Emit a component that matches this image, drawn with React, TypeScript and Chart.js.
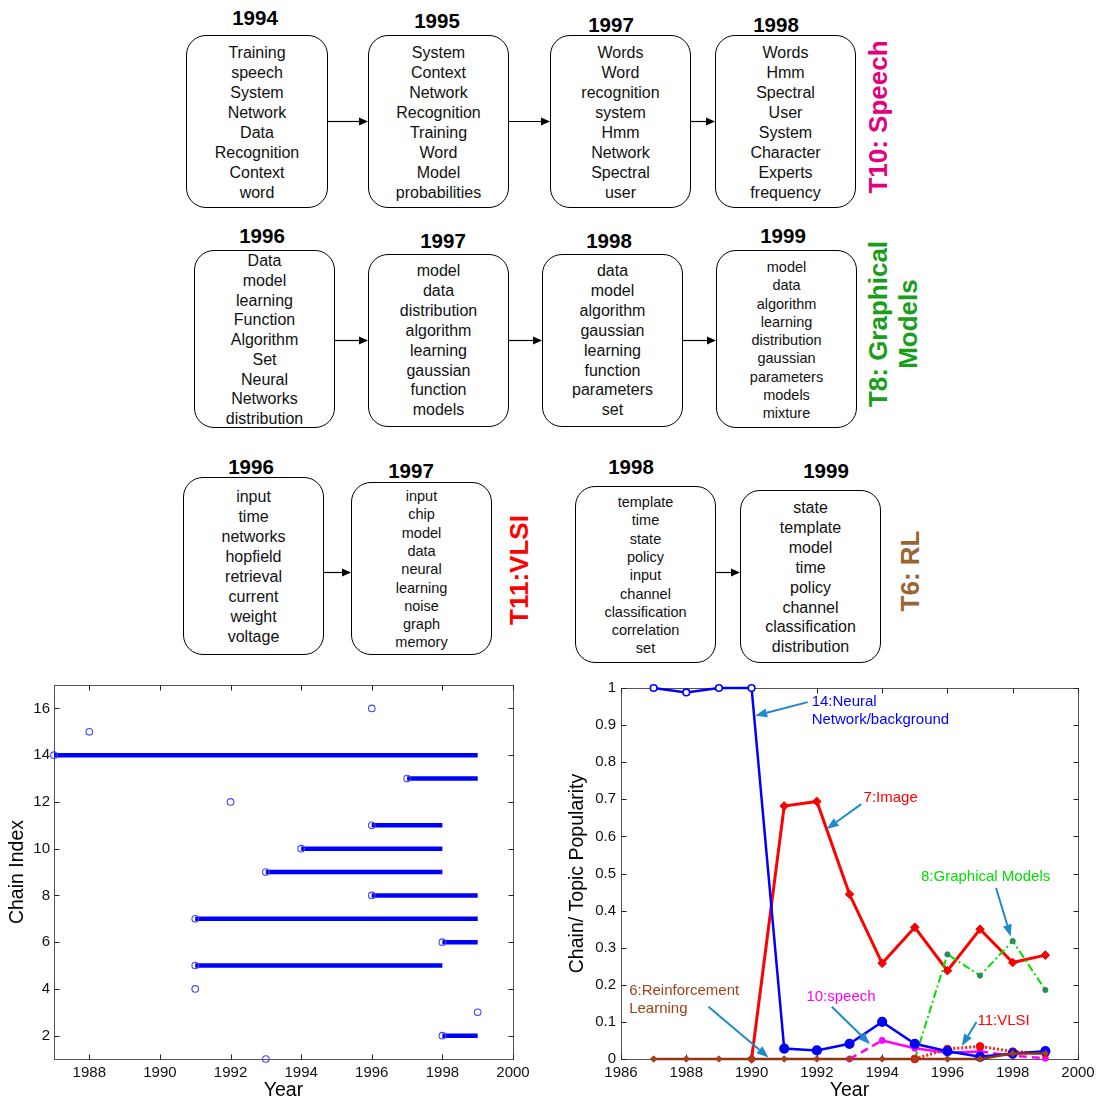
import React, { useEffect, useRef } from 'react';
import { Chart, registerables } from 'chart.js';

Chart.register(...registerables);

const FONT = '"Liberation Sans", Arial, Helvetica, sans-serif';
Chart.defaults.font.family = FONT;

// ---------- Left chart: chain index vs year ----------
const chainIndex = [16, 15, 14, 13, 12, 11, 10, 9, 8, 7, 6, 5, 4, 3, 2, 1];
const chainStart = [1996, 1988, 1987, 1997, 1992, 1996, 1994, 1993, 1996, 1991, 1998, 1991, 1991, 1999, 1998, 1993];
const chainEnd = [1996, 1988, 1999, 1999, 1992, 1998, 1998, 1998, 1999, 1999, 1999, 1998, 1991, 1999, 1999, 1993];
const leftXTicks = [1988, 1990, 1992, 1994, 1996, 1998, 2000];
const leftYTicks = [2, 4, 6, 8, 10, 12, 14, 16];

// ---------- Right chart: chain / topic popularity ----------
const neuralYears = [1987, 1988, 1989, 1990, 1991, 1992, 1993, 1994, 1995, 1996, 1997, 1998, 1999];
const neuralValues = [1.0, 0.988, 1.0, 1.0, 0.028, 0.023, 0.041, 0.1, 0.041, 0.021, 0.006, 0.015, 0.021];
const imageYears = [1990, 1991, 1992, 1993, 1994, 1995, 1996, 1997, 1998, 1999];
const imageValues = [0, 0.682, 0.694, 0.444, 0.258, 0.355, 0.238, 0.35, 0.26, 0.28];
const graphicalYears = [1995, 1996, 1997, 1998, 1999];
const graphicalValues = [0, 0.282, 0.225, 0.318, 0.186];
const speechYears = [1993, 1994, 1995, 1996, 1997, 1998, 1999];
const speechValues = [0, 0.05, 0.029, 0.017, 0.02, 0.009, 0.002];
const vlsiYears = [1995, 1996, 1997, 1998, 1999];
const vlsiValues = [0, 0.027, 0.034, 0.02, 0.016];
const rlYears = [1987, 1988, 1989, 1990, 1991, 1992, 1993, 1994, 1995, 1996, 1997, 1998, 1999];
const rlValues = [0, 0, 0, 0, 0, 0, 0, 0, 0, 0, 0, 0.015, 0.015];
const rightXTicks = [1986, 1988, 1990, 1992, 1994, 1996, 1998, 2000];
const rightYTicks = [0, 0.1, 0.2, 0.3, 0.4, 0.5, 0.6, 0.7, 0.8, 0.9, 1];

const ARROW_BLUE = '#1f8ac9';
const annotations = [
  { lines: ['14:Neural', 'Network/background'], color: '#0000ff', at: [1991.84, 0.962], tail: [1991.72, 0.962], head: [1990.11, 0.925] },
  { lines: ['7:Image'], color: '#ff0000', at: [1993.43, 0.703], tail: [1993.36, 0.687], head: [1992.3, 0.62] },
  { lines: ['8:Graphical Models'], color: '#00dd00', at: [1995.19, 0.491], tail: [1997.49, 0.461], head: [1997.94, 0.33] },
  { lines: ['6:Reinforcement', 'Learning'], color: '#a0421a', at: [1986.25, 0.183], tail: [1988.68, 0.141], head: [1990.52, 0.004] },
  { lines: ['10:speech'], color: '#ff00ff', at: [1991.68, 0.168], tail: [1992.46, 0.141], head: [1993.63, 0.04] },
  { lines: ['11:VLSI'], color: '#ff0000', at: [1996.92, 0.103], tail: [1996.89, 0.1], head: [1996.44, 0.035] },
];

// ---------- Diagram content ----------
type BoxSpec = { l: number; t: number; w: number; h: number; first: number; lh: number; fs: number; words: string[] };
const boxes: BoxSpec[] = [
  { l: 186, t: 35, w: 142, h: 173, first: 53, lh: 20, fs: 16, words: ['Training', 'speech', 'System', 'Network', 'Data', 'Recognition', 'Context', 'word'] },
  { l: 368, t: 35, w: 141, h: 173, first: 53, lh: 20, fs: 16, words: ['System', 'Context', 'Network', 'Recognition', 'Training', 'Word', 'Model', 'probabilities'] },
  { l: 550, t: 35, w: 141, h: 173, first: 53, lh: 20, fs: 16, words: ['Words', 'Word', 'recognition', 'system', 'Hmm', 'Network', 'Spectral', 'user'] },
  { l: 715, t: 35, w: 141, h: 173, first: 53, lh: 20, fs: 16, words: ['Words', 'Hmm', 'Spectral', 'User', 'System', 'Character', 'Experts', 'frequency'] },
  { l: 194, t: 250, w: 141, h: 178, first: 261, lh: 19.75, fs: 16, words: ['Data', 'model', 'learning', 'Function', 'Algorithm', 'Set', 'Neural', 'Networks', 'distribution'] },
  { l: 368, t: 254, w: 141, h: 173, first: 271, lh: 19.9, fs: 16, words: ['model', 'data', 'distribution', 'algorithm', 'learning', 'gaussian', 'function', 'models'] },
  { l: 542, t: 254, w: 141, h: 173, first: 271, lh: 19.9, fs: 16, words: ['data', 'model', 'algorithm', 'gaussian', 'learning', 'function', 'parameters', 'set'] },
  { l: 716, t: 250, w: 141, h: 178, first: 267, lh: 18.25, fs: 14.5, words: ['model', 'data', 'algorithm', 'learning', 'distribution', 'gaussian', 'parameters', 'models', 'mixture'] },
  { l: 183, t: 477, w: 141, h: 178, first: 497, lh: 20, fs: 16, words: ['input', 'time', 'networks', 'hopfield', 'retrieval', 'current', 'weight', 'voltage'] },
  { l: 351, t: 482, w: 141, h: 173, first: 496, lh: 18.3, fs: 14.5, words: ['input', 'chip', 'model', 'data', 'neural', 'learning', 'noise', 'graph', 'memory'] },
  { l: 575, t: 486, w: 141, h: 177, first: 502, lh: 18.3, fs: 14.5, words: ['template', 'time', 'state', 'policy', 'input', 'channel', 'classification', 'correlation', 'set'] },
  { l: 740, t: 490, w: 141, h: 173, first: 508, lh: 19.9, fs: 16, words: ['state', 'template', 'model', 'time', 'policy', 'channel', 'classification', 'distribution'] },
];
const yearLabels: [string, number, number][] = [
  ['1994', 255, 18], ['1995', 437, 21], ['1997', 611, 25], ['1998', 776, 25],
  ['1996', 262, 236], ['1997', 443, 241], ['1998', 609, 241], ['1999', 783, 236],
  ['1996', 251, 467], ['1997', 411, 471], ['1998', 631, 467], ['1999', 826, 471],
];
const diagramArrows: [number, number, number][] = [
  [328, 368, 121], [509, 550, 121], [691, 715, 121],
  [335, 368, 340], [509, 542, 340], [683, 716, 340],
  [324, 351, 572], [716, 740, 572],
];
const sideTitles: { lines: string[]; color: string; x: number; y: number }[] = [
  { lines: ['T10: Speech'], color: '#e2007d', x: 878, y: 117 },
  { lines: ['T8: Graphical', 'Models'], color: '#1a9d1a', x: 893, y: 324 },
  { lines: ['T11:VLSI'], color: '#ff0000', x: 519, y: 570 },
  { lines: ['T6: RL'], color: '#9b6433', x: 910, y: 571 },
];

// ---------- plugins ----------
const matlabBox = {
  id: 'matlabBox',
  beforeDatasetsDraw(chart: any) {
    const { ctx, chartArea: a, scales } = chart;
    ctx.save();
    ctx.strokeStyle = '#555555';
    ctx.lineWidth = 1;
    const L = Math.round(a.left) + 0.5, R = Math.round(a.right) + 0.5;
    const T = Math.round(a.top) + 0.5, B = Math.round(a.bottom) + 0.5;
    ctx.strokeRect(L, T, R - L, B - T);
    const tl = 5;
    ctx.strokeStyle = '#222222';
    ctx.beginPath();
    scales.x.ticks.forEach((t: any) => {
      const px = Math.round(scales.x.getPixelForValue(t.value)) + 0.5;
      ctx.moveTo(px, B); ctx.lineTo(px, B - tl);
      ctx.moveTo(px, T); ctx.lineTo(px, T + tl);
    });
    scales.y.ticks.forEach((t: any) => {
      const py = Math.round(scales.y.getPixelForValue(t.value)) + 0.5;
      ctx.moveTo(L, py); ctx.lineTo(L + tl, py);
      ctx.moveTo(R, py); ctx.lineTo(R - tl, py);
    });
    ctx.stroke();
    ctx.restore();
  },
};

function drawArrow(ctx: CanvasRenderingContext2D, x1: number, y1: number, x2: number, y2: number) {
  const ang = Math.atan2(y2 - y1, x2 - x1);
  const hl = 12, hw = 4.5;
  const bx = x2 - hl * Math.cos(ang), by = y2 - hl * Math.sin(ang);
  ctx.beginPath();
  ctx.moveTo(x1, y1);
  ctx.lineTo(bx, by);
  ctx.stroke();
  ctx.beginPath();
  ctx.moveTo(x2, y2);
  ctx.lineTo(bx + hw * Math.sin(ang), by - hw * Math.cos(ang));
  ctx.lineTo(bx - hw * Math.sin(ang), by + hw * Math.cos(ang));
  ctx.closePath();
  ctx.fill();
}

const annotationPlugin = {
  id: 'annos',
  afterDatasetsDraw(chart: any) {
    const { ctx, scales } = chart;
    const xs = scales.x, ys = scales.y;
    ctx.save();
    ctx.strokeStyle = ARROW_BLUE;
    ctx.fillStyle = ARROW_BLUE;
    ctx.lineWidth = 2;
    annotations.forEach((a) => {
      drawArrow(ctx, xs.getPixelForValue(a.tail[0]), ys.getPixelForValue(a.tail[1]), xs.getPixelForValue(a.head[0]), ys.getPixelForValue(a.head[1]));
    });
    ctx.font = `15px ${FONT}`;
    ctx.textAlign = 'left';
    ctx.textBaseline = 'middle';
    annotations.forEach((a) => {
      ctx.fillStyle = a.color;
      const x = xs.getPixelForValue(a.at[0]);
      const y = ys.getPixelForValue(a.at[1]);
      a.lines.forEach((ln, i) => ctx.fillText(ln, x, y + i * 17.5));
    });
    ctx.restore();
  },
};

const toXY = (xs: number[], ys: number[]) => xs.map((x, i) => ({ x, y: ys[i] }));

function axisCommon(title: string, titlePad: any, tickPad: number) {
  return {
    type: 'linear',
    grid: { display: false, drawTicks: false },
    border: { display: false },
    ticks: { font: { size: 15, family: FONT }, color: '#111', padding: tickPad, maxRotation: 0, autoSkip: false },
    title: { display: true, text: title, color: '#000', font: { size: 19.5, family: FONT }, padding: titlePad },
  };
}

function LeftChart() {
  const ref = useRef<HTMLCanvasElement>(null);
  useEffect(() => {
    const datasets = chainIndex.map((idx, i) => {
      const single = chainStart[i] === chainEnd[i];
      const data = single ? [{ x: chainStart[i], y: idx }] : [{ x: chainStart[i], y: idx }, { x: chainEnd[i], y: idx }];
      return {
        data,
        showLine: !single,
        borderColor: '#0000ff',
        borderWidth: 4.5,
        borderCapStyle: 'butt',
        pointRadius: data.map((_, j) => (j === 0 ? 3.3 : 0)),
        pointBorderColor: '#4545ff',
        pointBackgroundColor: 'rgba(0,0,0,0)',
        pointBorderWidth: 1.1,
        clip: 8,
      };
    });
    const xAxis: any = axisCommon('Year', { top: 0, bottom: 0 }, 5);
    Object.assign(xAxis, {
      min: 1987, max: 2000,
      afterBuildTicks: (s: any) => { s.ticks = leftXTicks.map((v) => ({ value: v })); },
      afterFit: (s: any) => { s.height = 43; s.paddingLeft = 0; s.paddingRight = 0; },
    });
    xAxis.ticks.callback = (v: any) => String(v);
    const yAxis: any = axisCommon('Chain Index', { top: 6, bottom: 0 }, 4);
    Object.assign(yAxis, {
      min: 1, max: 17,
      afterBuildTicks: (s: any) => { s.ticks = leftYTicks.map((v) => ({ value: v })); },
      afterFit: (s: any) => { s.width = 54; s.paddingTop = 0; s.paddingBottom = 0; },
    });
    yAxis.ticks.callback = (v: any) => String(v);
    const chart = new Chart(ref.current!, {
      type: 'scatter',
      data: { datasets } as any,
      options: {
        animation: false,
        responsive: false,
        events: [],
        layout: { padding: { left: 0, right: 27, top: 4, bottom: 0 } },
        plugins: { legend: { display: false }, tooltip: { enabled: false } },
        scales: { x: xAxis, y: yAxis },
      } as any,
      plugins: [matlabBox],
    });
    return () => chart.destroy();
  }, []);
  return <canvas ref={ref} width={540} height={422} style={{ position: 'absolute', left: 0, top: 680, width: 540, height: 422 }} />;
}

function RightChart() {
  const ref = useRef<HTMLCanvasElement>(null);
  useEffect(() => {
    const common = { showLine: true, clip: 8, tension: 0 };
    const datasets = [
      {
        ...common, data: toXY(rlYears, rlValues), borderColor: '#8f3510', borderWidth: 2.5,
        pointStyle: 'rectRot', pointRadius: 3.2, pointBackgroundColor: '#a0421a', pointBorderColor: '#a0421a', pointBorderWidth: 1,
      },
      {
        ...common, data: toXY(neuralYears, neuralValues), borderColor: '#0000ff', borderWidth: 2.5,
        pointRadius: neuralYears.map((_, i) => (i < 4 ? 3.3 : 4.3)),
        pointBackgroundColor: neuralYears.map((_, i) => (i < 4 ? '#ffffff' : '#0000ff')),
        pointBorderColor: '#0000ff', pointBorderWidth: 1.6,
      },
      {
        ...common, data: toXY(vlsiYears, vlsiValues), borderColor: '#ff2020', borderWidth: 3, borderDash: [2, 2],
        pointRadius: 3.8, pointBackgroundColor: '#ff0000', pointBorderColor: '#ff0000', pointBorderWidth: 1,
      },
      {
        ...common, data: toXY(speechYears, speechValues), borderColor: '#ff00ff', borderWidth: 2.5,
        segment: { borderDash: (c: any) => (c.p0DataIndex === 0 || c.p0DataIndex >= 4 ? [8, 5] : undefined) },
        pointRadius: 3, pointBackgroundColor: '#ff00ff', pointBorderColor: '#ff00ff', pointBorderWidth: 1,
      },
      {
        ...common, data: toXY(graphicalYears, graphicalValues), borderColor: '#00e000', borderWidth: 2, borderDash: [8, 3, 2, 3],
        pointRadius: 2.6, pointBackgroundColor: '#2e8b57', pointBorderColor: '#2e8b57', pointBorderWidth: 1,
      },
      {
        ...common, data: toXY(imageYears, imageValues), borderColor: '#ff0000', borderWidth: 3,
        pointStyle: 'rectRot', pointRadius: 4.3, pointBackgroundColor: '#ff0000', pointBorderColor: '#e00000', pointBorderWidth: 1,
      },
    ];
    const xAxis: any = axisCommon('Year', { top: 0, bottom: 0 }, 5);
    Object.assign(xAxis, {
      min: 1986, max: 2000,
      afterBuildTicks: (s: any) => { s.ticks = rightXTicks.map((v) => ({ value: v })); },
      afterFit: (s: any) => { s.height = 43; s.paddingLeft = 0; s.paddingRight = 0; },
    });
    xAxis.ticks.callback = (v: any) => String(v);
    const yAxis: any = axisCommon('Chain/ Topic Popularity', { top: 6, bottom: 0 }, 5);
    Object.assign(yAxis, {
      min: 0, max: 1,
      afterBuildTicks: (s: any) => { s.ticks = rightYTicks.map((v) => ({ value: v })); },
      afterFit: (s: any) => { s.width = 61; s.paddingTop = 0; s.paddingBottom = 0; },
    });
    yAxis.ticks.callback = (v: any) => (v === 0 ? '0' : v === 1 ? '1' : Number(v).toFixed(1));
    const chart = new Chart(ref.current!, {
      type: 'scatter',
      data: { datasets } as any,
      options: {
        animation: false,
        responsive: false,
        events: [],
        layout: { padding: { left: 0, right: 24, top: 8, bottom: 0 } },
        plugins: { legend: { display: false }, tooltip: { enabled: false } },
        scales: { x: xAxis, y: yAxis },
      } as any,
      plugins: [matlabBox, annotationPlugin],
    });
    return () => chart.destroy();
  }, []);
  return <canvas ref={ref} width={542} height={422} style={{ position: 'absolute', left: 560, top: 680, width: 542, height: 422 }} />;
}

function Diagram() {
  return (
    <>
      {boxes.map((b, bi) => (
        <React.Fragment key={'b' + bi}>
          <div style={{ position: 'absolute', left: b.l, top: b.t, width: b.w, height: b.h, border: '1px solid #000', borderRadius: 20, boxSizing: 'border-box' }} />
          {b.words.map((w, i) => (
            <div key={i} style={{ position: 'absolute', left: b.l, width: b.w, top: b.first + i * b.lh - 10, height: 20, lineHeight: '20px', textAlign: 'center', fontSize: b.fs, fontFamily: FONT, color: '#111', whiteSpace: 'nowrap' }}>{w}</div>
          ))}
        </React.Fragment>
      ))}
      {yearLabels.map(([t, x, y], i) => (
        <div key={'y' + i} style={{ position: 'absolute', left: x - 40, width: 80, top: y - 12, height: 24, lineHeight: '24px', textAlign: 'center', fontSize: 20.5, fontWeight: 'bold', fontFamily: FONT, color: '#000' }}>{t}</div>
      ))}
      {sideTitles.map((s, i) => (
        <div key={'s' + i} style={{ position: 'absolute', left: s.x, top: s.y, transform: 'translate(-50%, -50%) rotate(-90deg)', whiteSpace: 'nowrap', textAlign: 'center', fontSize: 26, lineHeight: '30px', fontWeight: 'bold', fontFamily: FONT, color: s.color }}>
          {s.lines.map((ln, j) => <div key={j}>{ln}</div>)}
        </div>
      ))}
      <svg width={1102} height={680} style={{ position: 'absolute', left: 0, top: 0 }}>
        {diagramArrows.map(([x1, x2, y], i) => (
          <g key={i}>
            <line x1={x1} y1={y + 0.5} x2={x2 - 8} y2={y + 0.5} stroke="#000" strokeWidth={1.2} />
            <polygon points={`${x2},${y + 0.5} ${x2 - 9},${y - 3.5} ${x2 - 9},${y + 4.5}`} fill="#000" />
          </g>
        ))}
      </svg>
    </>
  );
}

export default function App() {
  return (
    <div style={{ position: 'absolute', left: 0, top: 0, width: 1102, height: 1102, background: '#fff', overflow: 'hidden' }}>
      <Diagram />
      <LeftChart />
      <RightChart />
    </div>
  );
}
